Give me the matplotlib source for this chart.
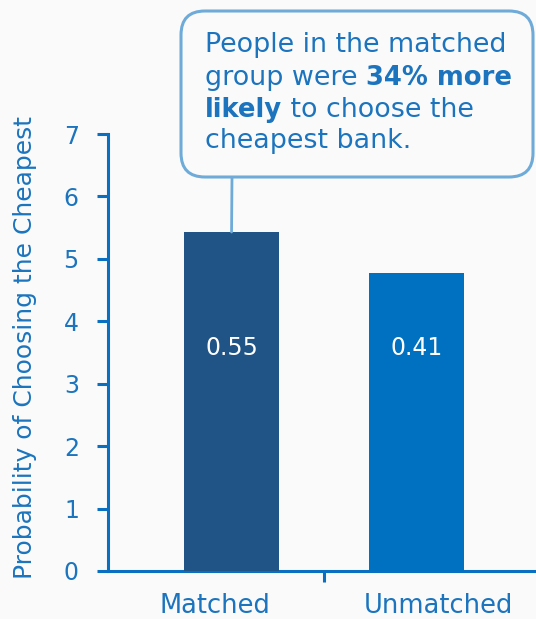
import matplotlib
matplotlib.use("Agg")
import matplotlib.pyplot as plt
from matplotlib.patches import FancyBboxPatch, ConnectionPatch
from matplotlib.transforms import IdentityTransform

categories = ["Matched", "Unmatched"]
bar_heights = [5.43, 4.78]
bar_labels = ["0.55", "0.41"]
yticks = [0, 1, 2, 3, 4, 5, 6, 7]

plt.rcParams['font.family'] = ['DejaVu Sans']

BG = '#fafafa'
AXC = '#0a6fc0'
TXT = '#1b74bd'
BOXC = '#6fabd9'
bar_colors = ['#215486', '#0070c0']
label_shift = [-0.09, 0.12]

W, H = 536, 619
fig = plt.figure(figsize=(W / 100, H / 100), dpi=100, facecolor=BG)
ax = fig.add_axes([108 / W, 48 / H, 1 - 108 / W, (571 - 134) / H])
ax.set_facecolor(BG)

x = list(range(len(categories)))
bars = ax.bar(x, bar_heights, width=0.514, color=bar_colors, zorder=3)
ax.set_xlim(-0.668, 1.646)
ax.set_ylim(0, 7)

for xi, lab in zip(x, bar_labels):
    ax.text(xi, 3.57, lab, color='white', ha='center', va='center', fontsize=17)

for s in ['top', 'right']:
    ax.spines[s].set_visible(False)
for s in ['left', 'bottom']:
    ax.spines[s].set_color(AXC)
    ax.spines[s].set_linewidth(2.2)
ax.set_yticks(yticks)
ax.tick_params(axis='y', colors=AXC, labelcolor=TXT, length=8, width=2.2,
               labelsize=17, pad=13)
ax.set_xticks([0.5])
ax.set_xticklabels([''])
ax.tick_params(axis='x', colors=AXC, length=8, width=2.2)
for xi, c, sh in zip(x, categories, label_shift):
    ax.text(xi + sh, -0.56, c, color=TXT, ha='center', va='center', fontsize=18.5)

ax.set_ylabel("Probability of Choosing the Cheapest", color=TXT, fontsize=18)
ax.yaxis.set_label_coords(-0.166, 0.511)

# callout box in pixel coordinates
bx0, by0, bx1, by1 = 181, H - 177, 533, H - 11
r = 24
box = FancyBboxPatch((bx0 + r, by0 + r), (bx1 - bx0) - 2 * r, (by1 - by0) - 2 * r,
                     boxstyle=f"round,pad={r},rounding_size={r}",
                     transform=IdentityTransform(), facecolor=BG,
                     edgecolor=BOXC, linewidth=2.2, zorder=5)
fig.patches.append(box)

con = ConnectionPatch(xyA=(0, bar_heights[0]), coordsA=ax.transData,
                      xyB=(232, by0), coordsB=IdentityTransform(),
                      color=BOXC, linewidth=2.0, zorder=4)
fig.add_artist(con)

fs = 19.4
fsb = 18.6
tx = 205 / W
lines_y = [H - 45, H - 78, H - 110, H - 141]
fig.text(tx, lines_y[0] / H, "People in the matched", color=TXT,
         fontsize=fs, va='center', zorder=6)
t2 = fig.text(tx, lines_y[1] / H, "group were ", color=TXT, fontsize=fs,
              va='center', zorder=6)
fig.add_artist(matplotlib.text.Annotation(
    "34% more", xy=(1, 0), xycoords=t2, va='bottom', ha='left', color=TXT,
    fontsize=fsb, fontweight='bold', zorder=6))
t3 = fig.text(tx, lines_y[2] / H, "likely", color=TXT, fontsize=fsb,
              fontweight='bold', va='center', zorder=6)
fig.add_artist(matplotlib.text.Annotation(
    " to choose the", xy=(1, 0), xycoords=t3, va='bottom', ha='left',
    color=TXT, fontsize=fs, zorder=6))
fig.text(tx, lines_y[3] / H, "cheapest bank.", color=TXT, fontsize=fs,
         va='center', zorder=6)

fig.savefig("out.png", dpi=100, facecolor=BG)
